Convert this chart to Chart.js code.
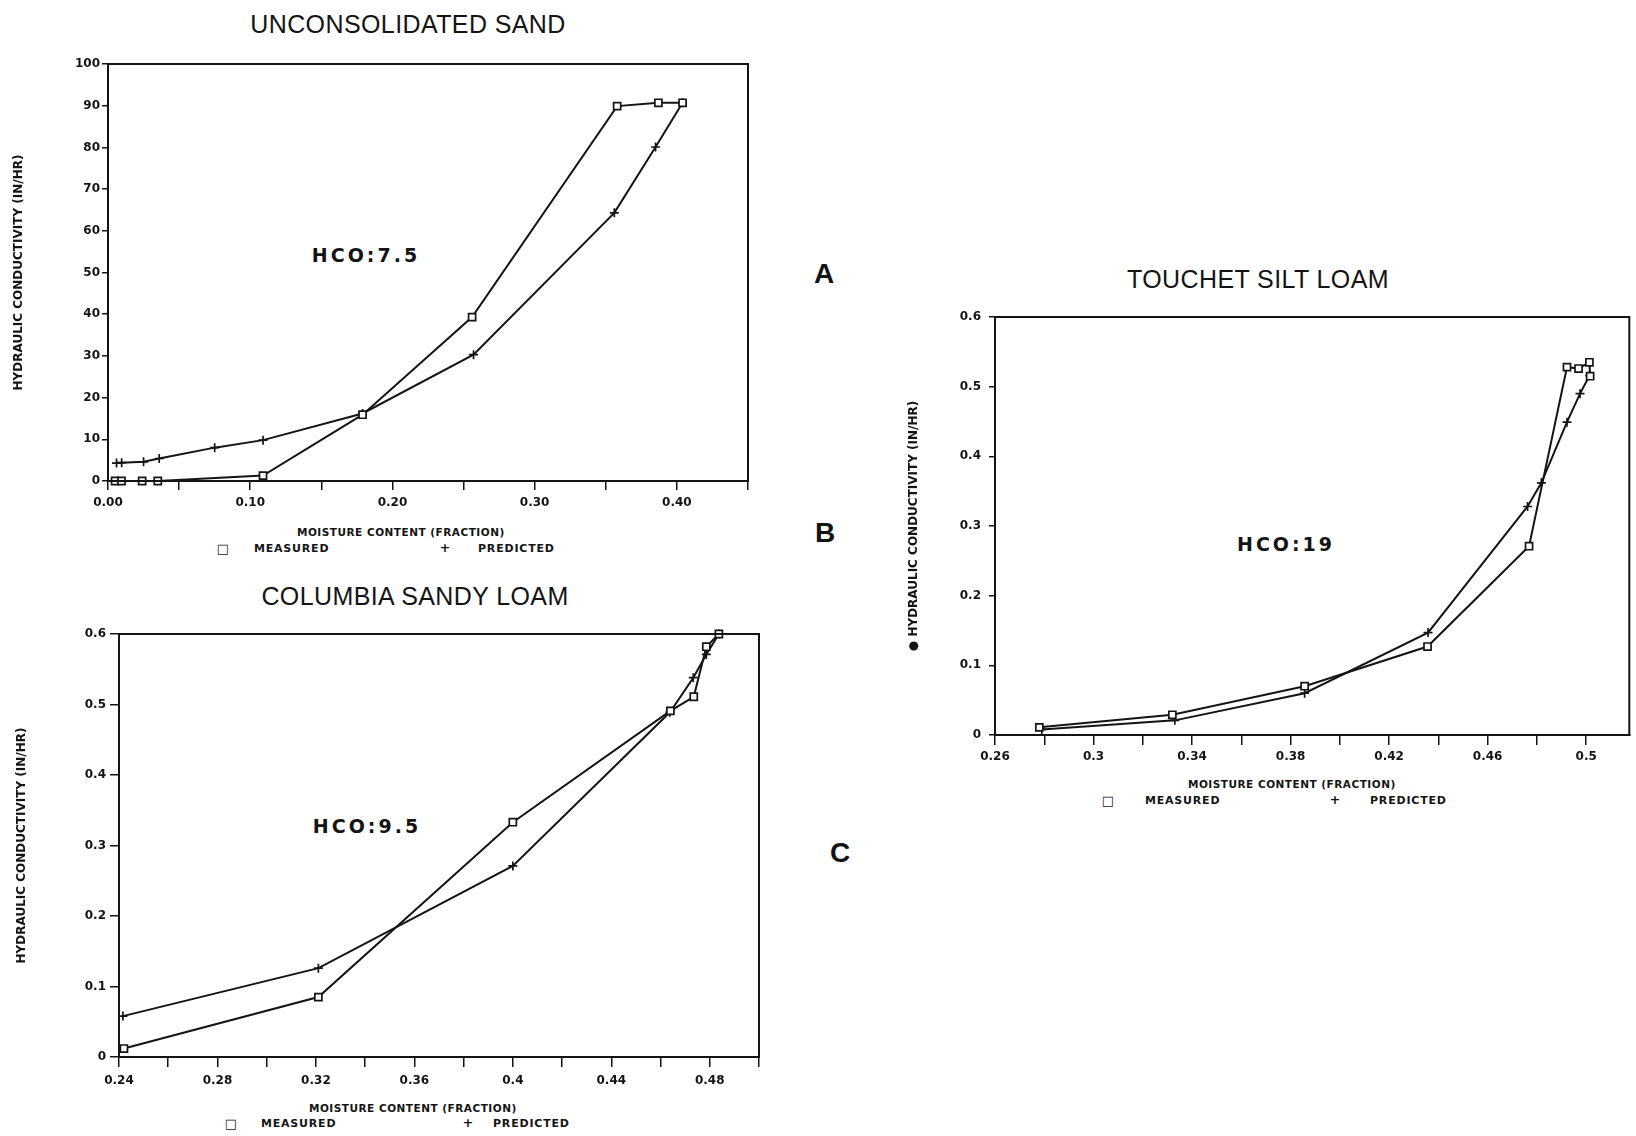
<!DOCTYPE html>
<html>
<head>
<meta charset="utf-8">
<script src="https://cdn.jsdelivr.net/npm/chart.js@4.4.0/dist/chart.umd.min.js"></script>
<style>
html,body{margin:0;padding:0;background:#fff;width:1636px;height:1136px;overflow:hidden;position:relative}
.cv{position:absolute}
.t{position:absolute;transform:translate(-50%,-50%);white-space:nowrap;color:#141414}
.l{position:absolute;transform:translate(0,-50%);white-space:nowrap;color:#141414}
.title{font-family:"Liberation Sans",Arial,sans-serif;font-size:25px;letter-spacing:0.4px}
.hco{font-family:"DejaVu Sans",sans-serif;font-weight:bold;font-size:19px;letter-spacing:3px}
.abc{font-family:"Liberation Sans",Arial,sans-serif;font-weight:bold;font-size:28px}
.ax{font-family:"DejaVu Sans",sans-serif;font-weight:bold;font-size:10.5px;letter-spacing:0.5px}
.lg{font-family:"DejaVu Sans",sans-serif;font-weight:bold;font-size:11px;letter-spacing:0.8px}
.mk{font-family:"DejaVu Sans",sans-serif;font-weight:bold;font-size:13px}
</style>
</head>
<body>

<div class="t title" style="left:408px;top:24px">UNCONSOLIDATED SAND</div>
<div class="t title" style="left:415px;top:596px">COLUMBIA SANDY LOAM</div>
<div class="t title" style="left:1258px;top:279px">TOUCHET SILT LOAM</div>

<div class="t hco" style="left:366px;top:255px">HCO:7.5</div>
<div class="t hco" style="left:367px;top:826px">HCO:9.5</div>
<div class="t hco" style="left:1286px;top:544px">HCO:19</div>

<div class="t abc" style="left:824px;top:274px">A</div>
<div class="t abc" style="left:825px;top:533px">B</div>
<div class="t abc" style="left:840px;top:853px">C</div>

<div class="l ax" style="left:297px;top:532px">MOISTURE CONTENT (FRACTION)</div>
<div class="t mk" style="left:223px;top:548px">□</div>
<div class="l lg" style="left:254px;top:548px">MEASURED</div>
<div class="t mk" style="left:445px;top:547px">+</div>
<div class="l lg" style="left:478px;top:548px">PREDICTED</div>

<div class="l ax" style="left:309px;top:1108px">MOISTURE CONTENT (FRACTION)</div>
<div class="t mk" style="left:231px;top:1123px">□</div>
<div class="l lg" style="left:261px;top:1123px">MEASURED</div>
<div class="t mk" style="left:468px;top:1122px">+</div>
<div class="l lg" style="left:493px;top:1123px">PREDICTED</div>

<div class="l ax" style="left:1188px;top:784px">MOISTURE CONTENT (FRACTION)</div>
<div class="t mk" style="left:1108px;top:800px">□</div>
<div class="l lg" style="left:1145px;top:800px">MEASURED</div>
<div class="t mk" style="left:1335px;top:799px">+</div>
<div class="l lg" style="left:1370px;top:800px">PREDICTED</div>

<script>
// ---------- Chart A : Unconsolidated sand ----------
const sandMeasuredX  = [0.005, 0.0095, 0.024, 0.035, 0.109, 0.179, 0.256, 0.358, 0.387, 0.404];
const sandMeasuredY  = [0, 0, 0, 0, 1.3, 15.9, 39.3, 89.9, 90.7, 90.7];
const sandPredictedX = [0.006, 0.0096, 0.025, 0.036, 0.075, 0.109, 0.179, 0.257, 0.356, 0.385, 0.404];
const sandPredictedY = [4.3, 4.4, 4.6, 5.4, 8.0, 9.8, 16.2, 30.3, 64.3, 80.1, 90.7];
const sandXTicks = ['0.00', '0.10', '0.20', '0.30', '0.40'];
const sandYTicks = ['0', '10', '20', '30', '40', '50', '60', '70', '80', '90', '100'];

// ---------- Chart C : Columbia sandy loam ----------
const loamMeasuredX  = [0.242, 0.321, 0.400, 0.464, 0.4735, 0.4786, 0.4837];
const loamMeasuredY  = [0.012, 0.085, 0.333, 0.491, 0.511, 0.582, 0.600];
const loamPredictedX = [0.2416, 0.321, 0.400, 0.4638, 0.4733, 0.4786, 0.4837];
const loamPredictedY = [0.058, 0.126, 0.271, 0.489, 0.538, 0.571, 0.600];
const loamXTicks = ['0.24', '0.28', '0.32', '0.36', '0.4', '0.44', '0.48'];
const loamYTicks = ['0', '0.1', '0.2', '0.3', '0.4', '0.5', '0.6'];

// ---------- Chart B : Touchet silt loam ----------
const siltMeasuredX  = [0.278, 0.332, 0.3857, 0.4356, 0.4768, 0.4922, 0.4969, 0.5013, 0.5016];
const siltMeasuredY  = [0.011, 0.029, 0.070, 0.127, 0.271, 0.528, 0.526, 0.535, 0.515];
const siltPredictedX = [0.279, 0.333, 0.3857, 0.4358, 0.4762, 0.4818, 0.4922, 0.4975, 0.5014];
const siltPredictedY = [0.008, 0.021, 0.060, 0.147, 0.328, 0.362, 0.449, 0.490, 0.516];
const siltXTicks = ['0.26', '0.3', '0.34', '0.38', '0.42', '0.46', '0.5'];
const siltYTicks = ['0', '0.1', '0.2', '0.3', '0.4', '0.5', '0.6'];

const INK = '#141414';
const tickFont = {family: 'DejaVu Sans', weight: 'bold', size: 12};

function pts(xs, ys) { return xs.map((x, i) => ({x: x, y: ys[i]})); }
function labelFrom(list) {
  return function (v) {
    const hit = list.find(s => Math.abs(parseFloat(s) - v) < 1e-6);
    return hit === undefined ? '' : hit;
  };
}

const boxPlugin = {
  id: 'frameBox',
  afterDraw(chart) {
    const a = chart.chartArea, ctx = chart.ctx;
    ctx.save();
    ctx.strokeStyle = INK;
    ctx.lineWidth = 2;
    ctx.strokeRect(a.left, a.top, a.right - a.left, a.bottom - a.top);
    ctx.restore();
  }
};

function makeChart(p) {
  const c = document.createElement('canvas');
  c.className = 'cv';
  c.width = p.w; c.height = p.h;
  c.style.left = p.x + 'px'; c.style.top = p.y + 'px';
  c.style.width = p.w + 'px'; c.style.height = p.h + 'px';
  document.body.appendChild(c);
  return new Chart(c, {
    type: 'scatter',
    data: {
      datasets: [
        {label: 'MEASURED', data: pts(p.mx, p.my), showLine: true,
         borderColor: INK, borderWidth: 2, pointStyle: 'rect', pointRadius: 5,
         pointBorderWidth: 1.7, pointBorderColor: INK, pointBackgroundColor: '#ffffff', clip: 8},
        {label: 'PREDICTED', data: pts(p.px, p.py), showLine: true,
         borderColor: INK, borderWidth: 2, pointStyle: 'cross', pointRadius: 4.5,
         pointBorderWidth: 1.7, pointBorderColor: INK, clip: 8}
      ]
    },
    options: {
      responsive: false, animation: false, devicePixelRatio: 1,
      layout: {padding: {left: p.pl, right: p.pr, top: 20, bottom: 2}},
      plugins: {legend: {display: false}, tooltip: {enabled: false}, title: {display: false}},
      scales: {
        x: {
          type: 'linear', min: p.xmin, max: p.xmax,
          afterFit: s => { s.height = 40; },
          ticks: {stepSize: p.xstep, includeBounds: false, autoSkip: false, maxRotation: 0,
                  color: INK, font: tickFont, padding: p.xpad, callback: labelFrom(p.xt)},
          grid: {drawOnChartArea: false, drawTicks: true, tickLength: p.xtl, color: INK, lineWidth: 1.5},
          border: {display: true, color: INK, width: 2}
        },
        y: {
          type: 'linear', min: p.ymin, max: p.ymax,
          afterFit: s => { s.width = p.yw; },
          ticks: {stepSize: p.ystep, includeBounds: false, autoSkip: false,
                  color: INK, font: tickFont, padding: p.ypad, callback: labelFrom(p.yt)},
          grid: {drawOnChartArea: false, drawTicks: true, tickLength: p.ytl, color: INK, lineWidth: 1.5},
          border: {display: true, color: INK, width: 2},
          title: {display: true, text: p.ytitle, color: INK,
                  font: {family: 'DejaVu Sans', weight: 'bold', size: 12}, padding: {top: 4, bottom: 0}}
        }
      }
    },
    plugins: [boxPlugin]
  });
}

makeChart({x: 0, y: 44, w: 760, h: 479, pl: 8, pr: 12, yw: 100,
  mx: sandMeasuredX, my: sandMeasuredY, px: sandPredictedX, py: sandPredictedY,
  xmin: 0, xmax: 0.45, xstep: 0.05, xt: sandXTicks, xtl: 9, xpad: 6,
  ymin: 0, ymax: 100, ystep: 10, yt: sandYTicks, ytl: 6, ypad: 2,
  ytitle: 'HYDRAULIC CONDUCTIVITY (IN/HR)'});

makeChart({x: 0, y: 614, w: 771, h: 485, pl: 11, pr: 12, yw: 108,
  mx: loamMeasuredX, my: loamMeasuredY, px: loamPredictedX, py: loamPredictedY,
  xmin: 0.24, xmax: 0.50, xstep: 0.02, xt: loamXTicks, xtl: 10, xpad: 7,
  ymin: 0, ymax: 0.6, ystep: 0.1, yt: loamYTicks, ytl: 9, ypad: 4,
  ytitle: 'HYDRAULIC CONDUCTIVITY (IN/HR)'});

makeChart({x: 880, y: 297, w: 756, h: 480, pl: 23, pr: 3, yw: 92,
  mx: siltMeasuredX, my: siltMeasuredY, px: siltPredictedX, py: siltPredictedY,
  xmin: 0.26, xmax: 0.5175, xstep: 0.02, xt: siltXTicks, xtl: 10, xpad: 5,
  ymin: 0, ymax: 0.6, ystep: 0.1, yt: siltYTicks, ytl: 6, ypad: 8,
  ytitle: '● HYDRAULIC CONDUCTIVITY (IN/HR)'});
</script>
</body>
</html>
